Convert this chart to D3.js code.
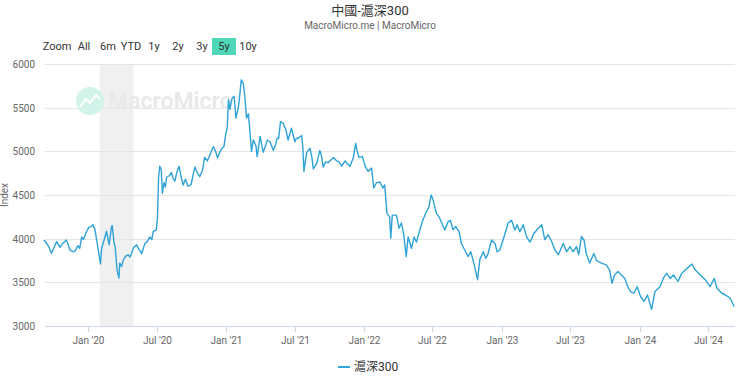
<!DOCTYPE html>
<html><head><meta charset="utf-8">
<script src="https://cdn.jsdelivr.net/npm/d3@7/dist/d3.min.js"></script>
<style>
html,body{margin:0;padding:0;background:#fff;}
svg{display:block;font-family:Roboto,"Noto Sans","Noto Sans CJK TC",sans-serif;}
</style></head>
<body>
<svg id="chart" width="740" height="376"></svg>
<script>
const title = "中國-滬深300";
const subtitle = "MacroMicro.me | MacroMicro";
const seriesName = "滬深300";
const yAxisTitle = "Index";
const rangeButtons = ["Zoom","All","6m","YTD","1y","2y","3y","5y","10y"];
const selectedRange = "5y";
const yTicks = [3000,3500,4000,4500,5000,5500,6000];
const xTickDates = ["2020-01-01","2020-07-01","2021-01-01","2021-07-01","2022-01-01","2022-07-01","2023-01-01","2023-07-01","2024-01-01","2024-07-01"];
const xTickLabels = ["Jan '20","Jul '20","Jan '21","Jul '21","Jan '22","Jul '22","Jan '23","Jul '23","Jan '24","Jul '24"];
const shadeRange = ["2020-02-01","2020-04-30"];
const dates = [
"2019-09-06","2019-09-13","2019-09-20","2019-09-26","2019-10-10","2019-10-19","2019-10-25","2019-11-04","2019-11-08","2019-11-14",
"2019-11-22","2019-11-28","2019-12-05","2019-12-10","2019-12-15","2019-12-20","2019-12-28","2020-01-03","2020-01-10","2020-01-14",
"2020-01-19","2020-01-23","2020-02-03","2020-02-06","2020-02-13","2020-02-19","2020-02-26","2020-03-03","2020-03-05","2020-03-10",
"2020-03-13","2020-03-18","2020-03-23","2020-03-25","2020-03-30","2020-04-03","2020-04-10","2020-04-16","2020-04-21","2020-04-25",
"2020-05-01","2020-05-09","2020-05-14","2020-05-20","2020-05-22","2020-05-31","2020-06-05","2020-06-13","2020-06-18","2020-06-22",
"2020-06-30","2020-07-03","2020-07-06","2020-07-09","2020-07-13","2020-07-16","2020-07-20","2020-07-24","2020-07-27","2020-08-03",
"2020-08-09","2020-08-13","2020-08-18","2020-08-24","2020-08-29","2020-09-04","2020-09-09","2020-09-15","2020-09-22","2020-09-30",
"2020-10-10","2020-10-16","2020-10-23","2020-10-30","2020-11-05","2020-11-12","2020-11-19","2020-11-28","2020-12-04","2020-12-09",
"2020-12-15","2020-12-20","2020-12-26","2020-12-31","2021-01-04","2021-01-07","2021-01-11","2021-01-14","2021-01-17","2021-01-22",
"2021-01-27","2021-02-02","2021-02-05","2021-02-10","2021-02-15","2021-02-19","2021-02-24","2021-03-01","2021-03-04","2021-03-09",
"2021-03-14","2021-03-21","2021-03-24","2021-04-01","2021-04-09","2021-04-15","2021-04-20","2021-04-27","2021-05-06","2021-05-12",
"2021-05-16","2021-05-20","2021-05-25","2021-06-01","2021-06-08","2021-06-14","2021-06-23","2021-07-02","2021-07-06","2021-07-11",
"2021-07-20","2021-07-23","2021-07-26","2021-08-02","2021-08-11","2021-08-16","2021-08-20","2021-08-29","2021-09-06","2021-09-10",
"2021-09-15","2021-09-22","2021-09-28","2021-10-12","2021-10-21","2021-10-27","2021-11-03","2021-11-12","2021-11-18","2021-11-25",
"2021-12-04","2021-12-10","2021-12-14","2021-12-19","2021-12-28","2022-01-04","2022-01-12","2022-01-21","2022-01-27","2022-02-03",
"2022-02-12","2022-02-20","2022-02-25","2022-03-03","2022-03-10","2022-03-13","2022-03-17","2022-03-28","2022-04-04","2022-04-10",
"2022-04-16","2022-04-23","2022-04-28","2022-05-07","2022-05-14","2022-05-20","2022-05-29","2022-06-06","2022-06-15","2022-06-22",
"2022-06-28","2022-07-03","2022-07-12","2022-07-19","2022-07-26","2022-08-03","2022-08-12","2022-08-18","2022-08-25","2022-09-01",
"2022-09-10","2022-09-16","2022-09-25","2022-10-04","2022-10-11","2022-10-19","2022-10-29","2022-11-04","2022-11-13","2022-11-20",
"2022-11-26","2022-12-05","2022-12-14","2022-12-20","2022-12-27","2023-01-07","2023-01-18","2023-01-27","2023-02-05","2023-02-11",
"2023-02-18","2023-02-27","2023-03-08","2023-03-17","2023-03-27","2023-04-08","2023-04-17","2023-04-25","2023-05-04","2023-05-13",
"2023-05-22","2023-05-31","2023-06-13","2023-06-22","2023-07-01","2023-07-09","2023-07-18","2023-07-24","2023-07-31","2023-08-07",
"2023-08-13","2023-08-22","2023-09-02","2023-09-09","2023-09-22","2023-10-05","2023-10-14","2023-10-20","2023-10-27","2023-11-05",
"2023-11-14","2023-11-23","2023-12-01","2023-12-08","2023-12-17","2023-12-26","2024-01-04","2024-01-13","2024-01-22","2024-02-02",
"2024-02-11","2024-02-24","2024-03-04","2024-03-13","2024-03-22","2024-03-31","2024-04-12","2024-04-22","2024-05-06","2024-05-19",
"2024-05-28","2024-06-10","2024-06-23","2024-07-06","2024-07-17","2024-07-24","2024-08-06","2024-08-16","2024-08-28","2024-09-08"
];
const values = [
3985,3950,3900,3833,3966,3900,3940,3985,3950,3870,
3850,3860,3920,3890,4020,3990,4080,4130,4140,4160,
4110,4010,3710,3890,3990,4085,3930,4130,4150,3950,
3900,3640,3550,3720,3680,3750,3800,3815,3790,3830,
3900,3930,3880,3850,3825,3950,3960,4020,3990,4085,
4100,4250,4700,4830,4790,4520,4640,4590,4700,4720,
4760,4690,4660,4770,4830,4700,4615,4680,4600,4620,
4820,4760,4710,4780,4930,4890,4960,5055,5000,4925,
4990,5030,5055,5200,5280,5590,5480,5560,5610,5630,
5380,5500,5600,5820,5780,5650,5380,5430,5280,5000,
5130,5060,4940,5170,4990,5060,5130,5110,5010,5080,
5150,5150,5340,5320,5250,5130,5265,5110,5150,5150,
5180,5050,4770,4985,5035,4930,4800,4860,5010,4960,
4820,4880,4870,4930,4890,4880,4830,4890,4860,4830,
4930,5090,5000,4930,4940,4830,4770,4810,4580,4640,
4650,4580,4615,4290,4250,4005,4270,4270,4120,4180,
4060,3795,4020,3890,4020,3960,4100,4210,4305,4360,
4500,4445,4290,4250,4180,4100,4195,4210,4100,4140,
4080,3945,3870,3795,3850,3720,3530,3760,3850,3775,
3830,3985,3945,3850,3870,4020,4180,4210,4100,4160,
4080,4160,4020,3960,4060,4120,4160,3990,4045,3970,
3870,3815,3945,3850,3910,3850,3910,3815,4025,3985,
3830,3720,3830,3750,3720,3700,3640,3490,3585,3625,
3585,3545,3450,3395,3375,3450,3335,3280,3355,3190,
3395,3450,3545,3605,3545,3585,3510,3605,3660,3710,
3640,3585,3530,3450,3545,3435,3375,3355,3320,3220
];

(function(){
const svg = d3.select("#chart");
const W = 740;
const pLeft = 45, pRight = 735, pTop = 64, pBottom = 326;
const parse = d3.utcParse("%Y-%m-%d");
const data = dates.map((d,i)=>({date:parse(d), value:values[i]}));

const x = d3.scaleUtc().domain([parse("2019-09-09"), parse("2024-09-10")]).range([pLeft, pRight]);
const y = d3.scaleLinear().domain([3000,6000]).range([pBottom, pTop]);

svg.append("text").attr("x", W/2).attr("y", 15).attr("text-anchor","middle")
  .attr("font-size", 13).attr("fill","#333").text(title);
svg.append("text").attr("x", W/2).attr("y", 29).attr("text-anchor","middle")
  .attr("font-size", 10).attr("fill","#666").text(subtitle);

const btnCenters = [57,84,108,131,154,178,202,224,248];
rangeButtons.forEach((b,i)=>{
  if (b === selectedRange) {
    svg.append("rect").attr("x", btnCenters[i]-12).attr("y", 38).attr("width", 24).attr("height", 17)
      .attr("fill","#4fd8b8");
  }
  svg.append("text").attr("x", btnCenters[i]).attr("y", 50).attr("text-anchor","middle")
    .attr("font-size", 11).attr("fill", "#333").text(b);
});

svg.append("rect").attr("x", x(parse(shadeRange[0]))).attr("y", pTop)
  .attr("width", x(parse(shadeRange[1])) - x(parse(shadeRange[0]))).attr("height", pBottom-pTop)
  .attr("fill","#f0f0f0");

svg.append("g").selectAll("line").data(yTicks.filter(t=>t>3000)).join("line")
  .attr("x1", pLeft).attr("x2", pRight).attr("y1", d=>Math.round(y(d))+0.5).attr("y2", d=>Math.round(y(d))+0.5)
  .attr("stroke","#e6e6e6").attr("stroke-width",1);

svg.append("g").selectAll("text").data(yTicks).join("text")
  .attr("x", 35).attr("y", d=>y(d)+4).attr("text-anchor","end")
  .attr("font-size", 10).attr("fill","#666").text(d=>d);
svg.append("text").attr("transform","translate(8,195) rotate(-90)").attr("text-anchor","middle")
  .attr("font-size", 10).attr("fill","#666").text(yAxisTitle);

const wm = svg.append("g");
wm.append("circle").attr("cx", 90).attr("cy", 101).attr("r", 14).attr("fill","#d2f3e9");
wm.append("path").attr("d","M80,107 L86,99 L90,103 L96,95 L100,99").attr("fill","none")
  .attr("stroke","#fff").attr("stroke-width",2);
wm.append("text").attr("x", 108).attr("y", 109).attr("font-size", 23).attr("font-weight", 600)
  .attr("fill","#e9e9e9").text("MacroMicro");

svg.append("line").attr("x1", pLeft).attr("x2", pRight).attr("y1", pBottom+0.5).attr("y2", pBottom+0.5)
  .attr("stroke","#ccd6eb");
const xt = svg.append("g");
xTickDates.forEach((d,i)=>{
  const px = Math.round(x(parse(d)))+0.5;
  xt.append("line").attr("x1", px).attr("x2", px).attr("y1", pBottom).attr("y2", pBottom+6).attr("stroke","#ccd6eb");
  xt.append("text").attr("x", px).attr("y", 344).attr("text-anchor","middle")
    .attr("font-size", 10).attr("fill","#666").text(xTickLabels[i]);
});

const line = d3.line().x(d=>x(d.date)).y(d=>y(d.value));
svg.append("path").datum(data).attr("d", line).attr("fill","none")
  .attr("stroke","#2fa3d6").attr("stroke-width",1.4).attr("stroke-linejoin","round");

svg.append("line").attr("x1", 338).attr("x2", 350).attr("y1", 367).attr("y2", 367)
  .attr("stroke","#2fa3d6").attr("stroke-width",2);
svg.append("text").attr("x", 354).attr("y", 371).attr("font-size", 12).attr("fill","#333").text(seriesName);
})();
</script>
</body></html>
